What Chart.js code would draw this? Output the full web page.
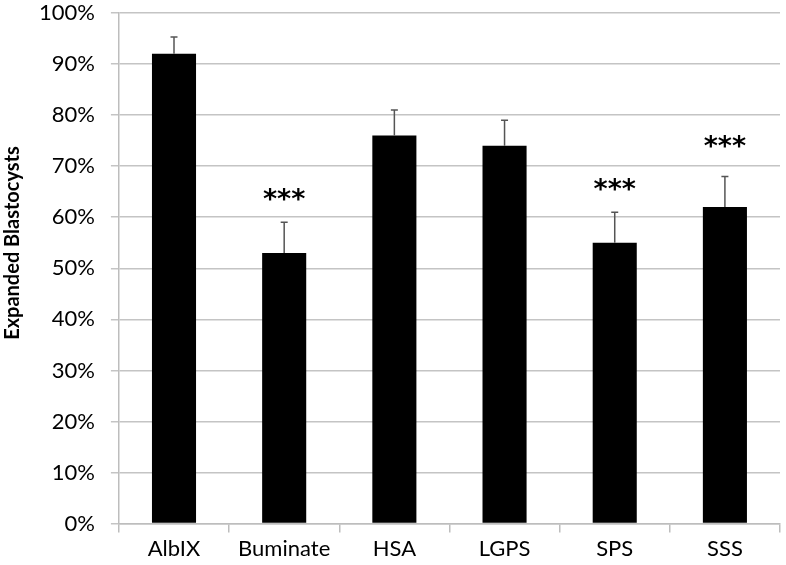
<!DOCTYPE html>
<html>
<head>
<meta charset="utf-8">
<script src="https://cdn.jsdelivr.net/npm/chart.js@4"></script>
<style>
html,body{margin:0;padding:0;background:#fff;}
#wrap{width:786px;height:565px;}
</style>
</head>
<body>
<div id="wrap"><canvas id="c" width="786" height="565"></canvas></div>
<script>
const categories = ["AlbIX", "Buminate", "HSA", "LGPS", "SPS", "SSS"];
const values = [92, 53, 76, 74, 55, 62];
const errors = [3.3, 6, 5, 5, 6, 6];
const significance = ["", "***", "", "", "***", "***"];
const sigPosition = [null, 63.5, null, null, 65.5, 74];
const yTicks = [0, 10, 20, 30, 40, 50, 60, 70, 80, 90, 100];
const yTitle = "Expanded Blastocysts";

const FONT = "Lato";

const errorBarPlugin = {
  id: 'errorBars',
  afterDatasetsDraw(chart) {
    const ctx = chart.ctx;
    const meta = chart.getDatasetMeta(0);
    const y = chart.scales.y;
    ctx.save();
    meta.data.forEach((bar, i) => {
      const top = y.getPixelForValue(values[i] + errors[i]);
      const base = y.getPixelForValue(values[i]);
      ctx.strokeStyle = '#555';
      ctx.lineWidth = 1.5;
      ctx.beginPath();
      ctx.moveTo(bar.x, base);
      ctx.lineTo(bar.x, top);
      ctx.moveTo(bar.x - 3.5, top);
      ctx.lineTo(bar.x + 3.5, top);
      ctx.stroke();
      if (significance[i]) {
        ctx.fillStyle = '#000';
        ctx.font = "bold 27px 'DejaVu Sans'";
        ctx.textAlign = 'center';
        ctx.textBaseline = 'middle';
        ctx.fillText(significance[i], bar.x, y.getPixelForValue(sigPosition[i]) + 2);
      }
    });
    // y axis title
    ctx.fillStyle = '#000';
    ctx.font = "bold 20px " + FONT;
    ctx.textAlign = 'center';
    ctx.textBaseline = 'middle';
    ctx.translate(13, 243);
    ctx.rotate(-Math.PI / 2);
    ctx.fillText(yTitle, 0, 0);
    ctx.restore();
  }
};

new Chart(document.getElementById('c'), {
  type: 'bar',
  data: {
    labels: categories,
    datasets: [{
      data: values,
      backgroundColor: '#000',
      borderColor: '#000',
      borderWidth: 0,
      barPercentage: 0.4,
      categoryPercentage: 1.0
    }]
  },
  options: {
    responsive: false,
    animation: false,
    devicePixelRatio: 1,
    layout: { padding: { top: 13, right: 6, left: 23, bottom: 0 } },
    plugins: { legend: { display: false }, tooltip: { enabled: false } },
    scales: {
      x: {
        grid: { offset: true, drawOnChartArea: false, color: '#bdbdbd', tickLength: 9, lineWidth: 1.5 },
        border: { color: '#bdbdbd', width: 1.5 },
        ticks: { color: '#000', font: { family: FONT, size: 22 }, padding: 3, maxRotation: 0 }
      },
      y: {
        min: 0, max: 100,
        afterBuildTicks(axis) { axis.ticks = yTicks.map(v => ({ value: v })); },
        afterFit(scale) { scale.paddingTop = 0; scale.paddingBottom = 0; },
        grid: { color: '#c4c4c4', lineWidth: 1.5, tickLength: 8 },
        border: { color: '#bdbdbd', width: 1.5 },
        ticks: { color: '#000', font: { family: FONT, size: 22 }, padding: 16, callback: v => v + '%' }
      }
    }
  },
  plugins: [errorBarPlugin]
});
</script>
</body>
</html>
